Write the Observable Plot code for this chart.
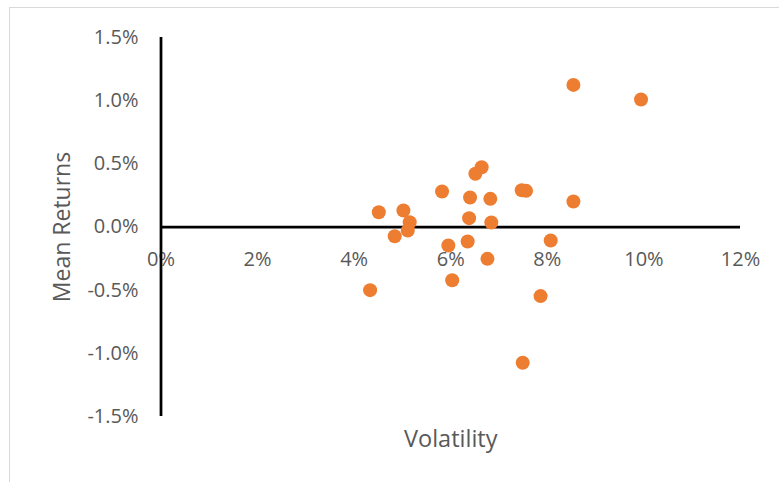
<!DOCTYPE html>
<html>
<head>
<meta charset="utf-8">
<script src="https://cdn.jsdelivr.net/npm/d3@7"></script>
<script src="https://cdn.jsdelivr.net/npm/@observablehq/plot@0.6"></script>
<style>
  html, body { margin: 0; padding: 0; background: #fff; }
  #wrap { position: relative; width: 779px; height: 482px; overflow: hidden; }
  #frame { position: absolute; left: 9px; top: 7px; width: 800px; height: 500px;
           border-left: 1.5px solid #d9d9d9; border-top: 1.5px solid #d9d9d9; pointer-events: none; }
  #wrap svg { position: absolute; left: 0; top: 0; }
</style>
</head>
<body>
<div id="wrap"><div id="frame"></div></div>
<script>
// Volatility (%) and mean returns (%) per asset
const volatility  = [8.54, 9.94, 6.64, 6.51, 5.82, 6.40, 6.82, 7.47, 7.56, 8.54,
                     4.51, 5.02, 5.15, 5.11, 6.38, 6.84, 4.84, 5.95, 6.35, 8.07,
                     6.76, 6.03, 4.33, 7.86, 7.49];
const meanReturns = [1.125, 1.009, 0.473, 0.421, 0.281, 0.233, 0.223, 0.291, 0.286, 0.202,
                     0.117, 0.131, 0.038, -0.028, 0.070, 0.036, -0.073, -0.146, -0.115, -0.107,
                     -0.252, -0.421, -0.500, -0.547, -1.074];

const xTicks = [0, 2, 4, 6, 8, 10, 12];
const yTicks = [-1.5, -1.0, -0.5, 0.0, 0.5, 1.0, 1.5];

const points = volatility.map((v, i) => ({vol: v, ret: meanReturns[i]}));

const fmtX = d => d + "%";
const fmtY = d => d.toFixed(1) + "%";
const grey = "#595959";

const chart = Plot.plot({
  width: 779,
  height: 482,
  marginLeft: 160.5,
  marginRight: 39,
  marginTop: 37,
  marginBottom: 66,
  x: {domain: [0, 12], axis: null},
  y: {domain: [-1.5, 1.5], axis: null},
  style: {fontFamily: "'Open Sans', sans-serif", background: "transparent", color: grey},
  marks: [
    // tick labels
    Plot.text(xTicks, {x: d => d, y: 0, dy: 33, text: fmtX, fill: grey, fontSize: 20, textAnchor: "middle", lineAnchor: "middle"}),
    Plot.text(yTicks, {x: 0, y: d => d, dx: -22.5, text: fmtY, fill: grey, fontSize: 20, textAnchor: "end", lineAnchor: "middle"}),
    // axis titles
    Plot.text(["Volatility"], {frameAnchor: "bottom", dy: 23, text: d => d, fill: grey, fontSize: 23.5,
                               textAnchor: "middle", lineAnchor: "middle"}),
    Plot.text(["Mean Returns"], {frameAnchor: "left", dx: -98, rotate: -90, text: d => d, fill: grey, fontSize: 23,
                                 textAnchor: "middle", lineAnchor: "middle"}),
    // axis lines crossing at the origin
    Plot.ruleX([0], {y1: -1.5, y2: 1.5, stroke: "#000", strokeWidth: 2.75}),
    Plot.ruleY([0], {x1: 0, x2: 12, stroke: "#000", strokeWidth: 2.75}),
    // assets
    Plot.dot(points, {x: "vol", y: "ret", r: 7, fill: "#ED7D31", stroke: "none"})
  ]
});

document.getElementById("wrap").prepend(chart);
</script>
</body>
</html>
